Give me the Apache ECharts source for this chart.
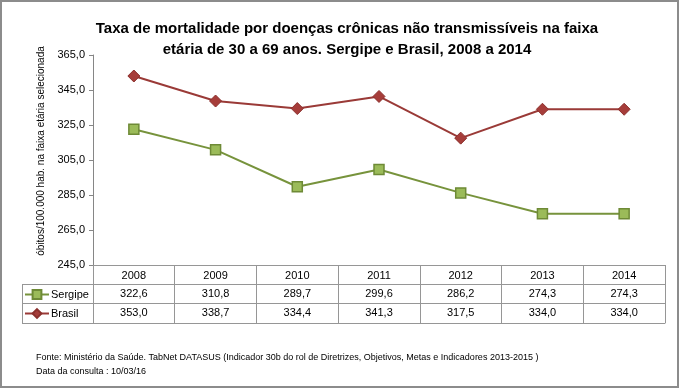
<!DOCTYPE html>
<html>
<head>
<meta charset="utf-8">
<script src="https://cdn.jsdelivr.net/npm/echarts@6/dist/echarts.min.js"></script>
<style>
html,body{margin:0;padding:0;background:#fff;}
#chart{width:680px;height:389px;}
</style>
</head>
<body>
<div id="chart"></div>
<script>
const years = ['2008','2009','2010','2011','2012','2013','2014'];
const sergipe = [322.6, 310.8, 289.7, 299.6, 286.2, 274.3, 274.3];
const brasil = [353.0, 338.7, 334.4, 341.3, 317.5, 334.0, 334.0];
const yTicks = [245, 265, 285, 305, 325, 345, 365];

const titleText = 'Taxa de mortalidade por doenças crônicas não transmissíveis na faixa\netária de 30 a 69 anos. Sergipe e Brasil, 2008 a 2014';
const yName = 'óbitos/100.000 hab. na faixa etária selecionada';
const footer1 = 'Fonte: Ministério da Saúde. TabNet DATASUS (Indicador 30b do rol de Diretrizes, Objetivos, Metas e Indicadores 2013-2015 )';
const footer2 = 'Data da consulta : 10/03/16';

const FONT = '"Liberation Sans Narrow", "Liberation Sans", sans-serif';
const fmt = v => v.toFixed(1).replace('.', ',');
const GRID = '#969696';

const chart = echarts.init(document.getElementById('chart'));
const tableAxis = (off, arr, showLabel) => ({
  type: 'category', data: years, position: 'bottom', offset: off,
  gridIndex: 0,
  axisLine: {show: true, lineStyle: {color: GRID, width: 1}},
  axisTick: {show: false},
  axisLabel: {show: showLabel, margin: 4, fontSize: 11, color: '#000', fontFamily: FONT,
    formatter: (v, i) => arr ? fmt(arr[i]) : v}
});

chart.setOption({
  animation: false,
  backgroundColor: '#fff',
  textStyle: {fontFamily: FONT},
  title: {
    text: titleText, left: 342, top: 13, textAlign: 'center',
    textStyle: {fontSize: 15, fontWeight: 'bold', color: '#000', lineHeight: 21, fontFamily: FONT}
  },
  grid: {left: 93, right: 15, top: 55, bottom: 124, containLabel: false},
  legend: {
    data: ['Sergipe', 'Brasil'], orient: 'vertical', left: 19, top: 284,
    itemGap: 8, itemWidth: 24, itemHeight: 11,
    textStyle: {fontSize: 11, color: '#000', fontFamily: FONT, padding: [0,0,0,-3]}
  },
  xAxis: [
    {
      type: 'category', data: years, position: 'bottom',
      axisLine: {show: true, lineStyle: {color: GRID, width: 1}},
      axisTick: {show: true, length: 58, lineStyle: {color: GRID}},
      axisLabel: {margin: 5, fontSize: 11, color: '#000', fontFamily: FONT}
    },
    tableAxis(19, sergipe, true),
    tableAxis(38, brasil, true),
    tableAxis(58, null, false)
  ],
  yAxis: {
    type: 'value', min: 245, max: 365, interval: 20,
    axisLine: {show: true, lineStyle: {color: '#868686'}},
    axisTick: {show: true, length: 4, lineStyle: {color: '#868686'}},
    splitLine: {show: false},
    axisLabel: {fontSize: 11, color: '#000', margin: 8, fontFamily: FONT,
      formatter: v => yTicks.includes(v) ? fmt(v) : ''},
    name: yName, nameLocation: 'middle', nameGap: 39, nameRotate: 90,
    nameTextStyle: {fontSize: 10, color: '#000', fontFamily: FONT, padding: [0, 0, 0, 18]}
  },
  series: [
    {
      name: 'Sergipe', type: 'line', data: sergipe, xAxisIndex: 0,
      symbol: 'rect', symbolSize: 10,
      lineStyle: {color: '#77933C', width: 2},
      itemStyle: {color: '#9BBB59', borderColor: '#6E8A36', borderWidth: 1.5}
    },
    {
      name: 'Brasil', type: 'line', data: brasil, xAxisIndex: 0,
      symbol: 'diamond', symbolSize: 12,
      lineStyle: {color: '#9A3A37', width: 2},
      itemStyle: {color: '#A63D3A', borderColor: '#8C302D', borderWidth: 1}
    }
  ],
  graphic: [
    {type: 'rect', shape: {x: 1, y: 1, width: 677, height: 386}, style: {fill: 'none', stroke: '#8c8c8c', lineWidth: 2}, silent: true},
    {type: 'line', shape: {x1: 22.5, y1: 284, x2: 22.5, y2: 323}, style: {stroke: GRID, lineWidth: 1}},
    {type: 'line', shape: {x1: 22, y1: 284.5, x2: 93, y2: 284.5}, style: {stroke: GRID, lineWidth: 1}},
    {type: 'line', shape: {x1: 22, y1: 303.5, x2: 93, y2: 303.5}, style: {stroke: GRID, lineWidth: 1}},
    {type: 'line', shape: {x1: 22, y1: 323.5, x2: 93, y2: 323.5}, style: {stroke: GRID, lineWidth: 1}},
    {type: 'text', left: 36, top: 353, style: {text: footer1, fontSize: 9, fill: '#000', fontFamily: FONT}},
    {type: 'text', left: 36, top: 367, style: {text: footer2, fontSize: 9, fill: '#000', fontFamily: FONT}}
  ]
});
</script>
</body>
</html>
